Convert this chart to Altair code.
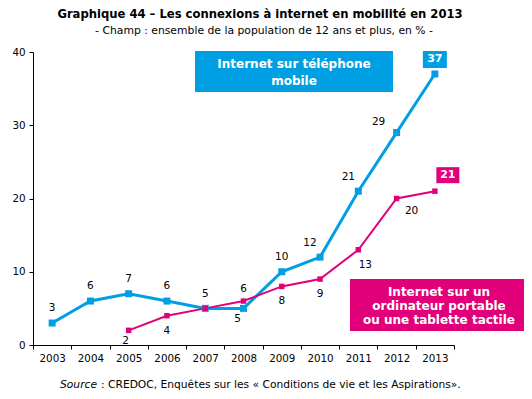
import altair as alt
import pandas as pd

years = ["2003", "2004", "2005", "2006", "2007", "2008", "2009", "2010", "2011", "2012", "2013"]
mobile = [3, 6, 7, 6, 5, 5, 10, 12, 21, 29, 37]
laptop = [None, None, 2, 4, 5, 6, 8, 9, 13, 20, 21]

# label placement (pixel offsets from each point); None = no plain label
mobile_dx = [0, 0, 0, 0, 0, -6, 0, -10, -10, -18, None]
mobile_dy = [-15, -15, -15, -15, -14, 11, -15, -14, -14, -11, None]
laptop_dx = [None, None, -3, 0, None, 0, 0, 0, 7, 15, None]
laptop_dy = [None, None, 11, 15, None, -12, 15, 15, 15, 12, None]

title_text = "Graphique 44 – Les connexions à internet en mobilité en 2013"
subtitle_text = "- Champ : ensemble de la population de 12 ans et plus, en % -"
source_italic = "Source"
source_rest = ": CREDOC, Enquêtes sur les « Conditions de vie et les Aspirations»."
mobile_name = ["Internet sur téléphone", "mobile"]
laptop_name = ["Internet sur un", "ordinateur portable", "ou une tablette tactile"]

BLUE = "#009FE3"
PINK = "#E2007A"
FONT = "DejaVu Sans"

blue_df = pd.DataFrame({"year": years, "value": mobile, "dx": mobile_dx, "dy": mobile_dy})
pink_df = pd.DataFrame({"year": years, "value": laptop, "dx": laptop_dx, "dy": laptop_dy}).dropna(subset=["value"])

x = alt.X("year:O", scale=alt.Scale(type="band", domain=years, paddingInner=0, paddingOuter=0),
          axis=alt.Axis(title=None, labelAngle=0, tickBand="extent", tickSize=4, labelPadding=4,
                        labelFontSize=10.3, labelFont=FONT, labelColor="black",
                        domainColor="black", tickColor="black", grid=False))
y = alt.Y("value:Q", scale=alt.Scale(domain=[0, 40], nice=False),
          axis=alt.Axis(title=None, values=[0, 10, 20, 30, 40], tickSize=4, labelPadding=4,
                        labelFontSize=10.3, labelFont=FONT, labelColor="black",
                        domainColor="black", tickColor="black", grid=False))

blue_line = alt.Chart(blue_df).mark_line(color=BLUE, strokeWidth=3).encode(x=x, y=y)
blue_pts = alt.Chart(blue_df).mark_point(shape="square", filled=True, opacity=1, size=49, color=BLUE).encode(x=x, y=y)
pink_line = alt.Chart(pink_df).mark_line(color=PINK, strokeWidth=2).encode(x=x, y=y)
pink_pts = alt.Chart(pink_df).mark_point(shape="square", filled=True, opacity=1, size=30, color=PINK).encode(x=x, y=y)

def labels(df, color="black"):
    layers = []
    for _, r in df.dropna(subset=["dx"]).iterrows():
        layers.append(
            alt.Chart(pd.DataFrame([r])).mark_text(font=FONT, fontSize=10.5, color=color,
                                                   dx=float(r["dx"]), dy=float(r["dy"]))
            .encode(x=x, y=y, text=alt.Text("value:Q", format="d"))
        )
    return layers

blue_last = blue_df.tail(1)
pink_last = pink_df.tail(1)
blue_box = alt.Chart(blue_last).mark_point(shape="M-12,-23L12,-23L12,-6L-12,-6Z", size=4, filled=True,
                                           opacity=1, color=BLUE, strokeWidth=0).encode(x=x, y=y)
blue_box_txt = alt.Chart(blue_last).mark_text(font=FONT, fontSize=11, fontWeight="bold", color="white",
                                              dy=-14.5).encode(x=x, y=y, text=alt.Text("value:Q", format="d"))
pink_box = alt.Chart(pink_last).mark_point(shape="M1.5,-24L24.5,-24L24.5,-8L1.5,-8Z", size=4, filled=True,
                                           opacity=1, color=PINK, strokeWidth=0).encode(x=x, y=y)
pink_box_txt = alt.Chart(pink_last).mark_text(font=FONT, fontSize=11, fontWeight="bold", color="white",
                                              dx=13, dy=-16).encode(x=x, y=y, text=alt.Text("value:Q", format="d"))

one = pd.DataFrame({"k": [0]})
leg_blue = alt.Chart(one).mark_rect(color=BLUE).encode(
    x=alt.value(162), x2=alt.value(360), y=alt.value(-1), y2=alt.value(40))
leg_blue_txt = alt.Chart(one).mark_text(text=mobile_name, font=FONT, fontSize=12, fontWeight="bold",
                                        color="white", lineHeight=17, baseline="middle").encode(
    x=alt.value(261), y=alt.value(11.5))
leg_pink = alt.Chart(one).mark_rect(color=PINK).encode(
    x=alt.value(317), x2=alt.value(491), y=alt.value(227), y2=alt.value(279))
leg_pink_txt = alt.Chart(one).mark_text(text=laptop_name, font=FONT, fontSize=12, fontWeight="bold",
                                        color="white", lineHeight=14, baseline="middle").encode(
    x=alt.value(406), y=alt.value(240))

title = alt.Chart(one).mark_text(text=title_text, font=FONT, fontSize=11.6, fontWeight="bold",
                                 baseline="top", color="black").encode(x=alt.value(227), y=alt.value(-43.5))
subtitle = alt.Chart(one).mark_text(text=subtitle_text, font=FONT, fontSize=10.8,
                                    color="black").encode(x=alt.value(231), y=alt.value(-21))
src1 = alt.Chart(one).mark_text(text=source_italic, font=FONT, fontSize=10.7, fontStyle="italic",
                                align="right", color="black").encode(x=alt.value(64), y=alt.value(333))
src2 = alt.Chart(one).mark_text(text=source_rest, font=FONT, fontSize=10.7, align="left",
                                color="black").encode(x=alt.value(68), y=alt.value(333))

chart = alt.layer(
    blue_line, pink_line, blue_pts, pink_pts,
    *labels(blue_df), *labels(pink_df),
    blue_box, blue_box_txt, pink_box, pink_box_txt,
    leg_blue, leg_blue_txt, leg_pink, leg_pink_txt,
    title, subtitle, src1, src2,
).properties(
    width=421, height=293,
    autosize=alt.AutoSizeParams(type="none"),
    padding={"left": 25, "top": 44, "right": 70, "bottom": 46},
).configure(background="white", view=alt.ViewConfig(stroke=None))

chart.save("out.html", embed_options={"renderer": "svg", "actions": False})
